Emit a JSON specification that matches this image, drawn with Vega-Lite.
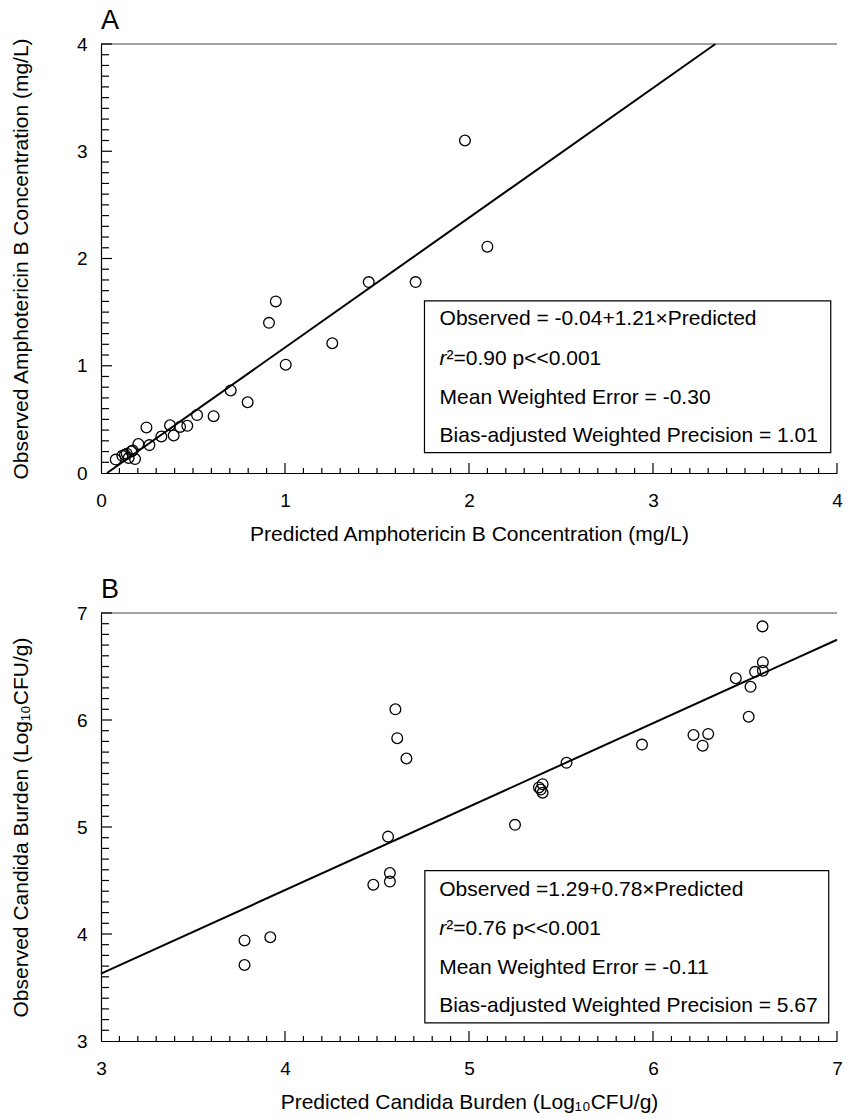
{
  "$schema": "https://vega.github.io/schema/vega-lite/v6.json",
  "background": "white",
  "padding": {"left": 10, "top": 7, "right": 6, "bottom": 5},
  "spacing": 32,
  "config": {
    "font": "Liberation Sans",
    "view": {"stroke": null},
    "axis": {
      "grid": false,
      "domainColor": "black",
      "domainWidth": 1.2,
      "tickColor": "black",
      "labelFontSize": 19,
      "labelColor": "black",
      "titleFontSize": 21,
      "titleFontWeight": "normal",
      "titleColor": "black",
      "labelOverlap": false,
      "labelFlush": false
    },
    "title": {"fontSize": 27, "fontWeight": "normal", "anchor": "start", "frame": "group", "color": "black"}
  },
  "datasets": {
    "ampho": [
      {"pred": 1.978, "obs": 3.10},
      {"pred": 2.10, "obs": 2.11},
      {"pred": 1.455, "obs": 1.78},
      {"pred": 1.71, "obs": 1.78},
      {"pred": 0.95, "obs": 1.60},
      {"pred": 0.913, "obs": 1.40},
      {"pred": 1.257, "obs": 1.21},
      {"pred": 1.004, "obs": 1.01},
      {"pred": 0.705, "obs": 0.77},
      {"pred": 0.797, "obs": 0.66},
      {"pred": 0.612, "obs": 0.53},
      {"pred": 0.522, "obs": 0.54},
      {"pred": 0.469, "obs": 0.44},
      {"pred": 0.43, "obs": 0.43},
      {"pred": 0.375, "obs": 0.445},
      {"pred": 0.395, "obs": 0.35},
      {"pred": 0.328, "obs": 0.34},
      {"pred": 0.247, "obs": 0.425},
      {"pred": 0.263, "obs": 0.26},
      {"pred": 0.203, "obs": 0.27},
      {"pred": 0.172, "obs": 0.21},
      {"pred": 0.165, "obs": 0.20},
      {"pred": 0.14, "obs": 0.18},
      {"pred": 0.13, "obs": 0.17},
      {"pred": 0.116, "obs": 0.16},
      {"pred": 0.08, "obs": 0.125},
      {"pred": 0.185, "obs": 0.13},
      {"pred": 0.15, "obs": 0.14}
    ],
    "candida": [
      {"pred": 3.78, "obs": 3.94},
      {"pred": 3.78, "obs": 3.71},
      {"pred": 3.92, "obs": 3.97},
      {"pred": 4.48, "obs": 4.46},
      {"pred": 4.57, "obs": 4.49},
      {"pred": 4.57, "obs": 4.57},
      {"pred": 4.56, "obs": 4.91},
      {"pred": 4.60, "obs": 6.10},
      {"pred": 4.61, "obs": 5.83},
      {"pred": 4.66, "obs": 5.64},
      {"pred": 5.25, "obs": 5.02},
      {"pred": 5.40, "obs": 5.40},
      {"pred": 5.39, "obs": 5.35},
      {"pred": 5.40, "obs": 5.32},
      {"pred": 5.38, "obs": 5.37},
      {"pred": 5.53, "obs": 5.60},
      {"pred": 5.94, "obs": 5.77},
      {"pred": 6.22, "obs": 5.86},
      {"pred": 6.30, "obs": 5.87},
      {"pred": 6.27, "obs": 5.76},
      {"pred": 6.52, "obs": 6.03},
      {"pred": 6.45, "obs": 6.39},
      {"pred": 6.53, "obs": 6.31},
      {"pred": 6.555, "obs": 6.45},
      {"pred": 6.597, "obs": 6.46},
      {"pred": 6.597, "obs": 6.54},
      {"pred": 6.595, "obs": 6.875}
    ],
    "fitA": [
      {"pred": 0.033, "obs": 0},
      {"pred": 3.339, "obs": 4}
    ],
    "fitB": [
      {"pred": 3, "obs": 3.63},
      {"pred": 7, "obs": 6.75}
    ],
    "majorA": [{"v": 1}, {"v": 2}, {"v": 3}, {"v": 4}],
    "minorA": [{"v":0.1},{"v":0.2},{"v":0.3},{"v":0.4},{"v":0.5},{"v":0.6},{"v":0.7},{"v":0.8},{"v":0.9},{"v":1.1},{"v":1.2},{"v":1.3},{"v":1.4},{"v":1.5},{"v":1.6},{"v":1.7},{"v":1.8},{"v":1.9},{"v":2.1},{"v":2.2},{"v":2.3},{"v":2.4},{"v":2.5},{"v":2.6},{"v":2.7},{"v":2.8},{"v":2.9},{"v":3.1},{"v":3.2},{"v":3.3},{"v":3.4},{"v":3.5},{"v":3.6},{"v":3.7},{"v":3.8},{"v":3.9}],
    "majorB": [{"v": 4}, {"v": 5}, {"v": 6}, {"v": 7}],
    "minorB": [{"v":3.1},{"v":3.2},{"v":3.3},{"v":3.4},{"v":3.5},{"v":3.6},{"v":3.7},{"v":3.8},{"v":3.9},{"v":4.1},{"v":4.2},{"v":4.3},{"v":4.4},{"v":4.5},{"v":4.6},{"v":4.7},{"v":4.8},{"v":4.9},{"v":5.1},{"v":5.2},{"v":5.3},{"v":5.4},{"v":5.5},{"v":5.6},{"v":5.7},{"v":5.8},{"v":5.9},{"v":6.1},{"v":6.2},{"v":6.3},{"v":6.4},{"v":6.5},{"v":6.6},{"v":6.7},{"v":6.8},{"v":6.9}],
    "one": [{}]
  },
  "vconcat": [
    {
      "title": {"text": "A", "offset": 0},
      "width": 736,
      "height": 429,
      "resolve": {"axis": {"x": "independent", "y": "independent"}},
      "layer": [
        {
          "data": {"name": "one"},
          "mark": {"type": "rule", "color": "#444", "strokeWidth": 1},
          "encoding": {
            "x": {"datum": 0, "type": "quantitative", "scale": {"domain": [0, 4], "nice": false, "zero": false},
              "axis": {
                "orient": "bottom",
                "title": "Predicted Amphotericin B Concentration (mg/L)",
                "values": [0, 1, 2, 3, 4],
                "format": "d",
                "ticks": true,
                "tickSize": 0,
                "labelPadding": 18,
                "titlePadding": 13,
                "labelOverlap": false
              }},
            "x2": {"datum": 4},
            "y": {"datum": 4, "type": "quantitative", "scale": {"domain": [0, 4], "nice": false, "zero": false},
              "axis": {
                "orient": "left",
                "title": "Observed Amphotericin B Concentration (mg/L)",
                "values": [0, 1, 2, 3, 4],
                "format": "d",
                "ticks": true,
                "tickSize": 0,
                "labelPadding": 14,
                "titlePadding": 45,
                "labelOverlap": false
              }}
          }
        },
        {
          "data": {"name": "majorA"},
          "mark": {"type": "tick", "orient": "vertical", "size": 10, "thickness": 1.2, "yOffset": -5, "color": "black", "opacity": 1},
          "encoding": {
            "x": {"field": "v", "type": "quantitative", "axis": null},
            "y": {"datum": 0, "type": "quantitative", "axis": null}
          }
        },
        {
          "data": {"name": "minorA"},
          "mark": {"type": "tick", "orient": "vertical", "size": 5, "thickness": 1.2, "yOffset": -2.5, "color": "black", "opacity": 1},
          "encoding": {
            "x": {"field": "v", "type": "quantitative", "axis": null},
            "y": {"datum": 0, "type": "quantitative", "axis": null}
          }
        },
        {
          "data": {"name": "majorA"},
          "mark": {"type": "tick", "orient": "horizontal", "size": 11, "thickness": 1.2, "xOffset": 5.5, "color": "black", "opacity": 1},
          "encoding": {
            "y": {"field": "v", "type": "quantitative", "axis": null},
            "x": {"datum": 0, "type": "quantitative", "axis": null}
          }
        },
        {
          "data": {"name": "minorA"},
          "mark": {"type": "tick", "orient": "horizontal", "size": 8, "thickness": 1.2, "xOffset": 4, "color": "black", "opacity": 1},
          "encoding": {
            "y": {"field": "v", "type": "quantitative", "axis": null},
            "x": {"datum": 0, "type": "quantitative", "axis": null}
          }
        },
        {
          "data": {"name": "fitA"},
          "mark": {"type": "line", "color": "black", "strokeWidth": 2},
          "encoding": {
            "x": {"field": "pred", "type": "quantitative", "axis": null},
            "y": {"field": "obs", "type": "quantitative", "axis": null}
          }
        },
        {
          "data": {"name": "ampho"},
          "mark": {"type": "point", "shape": "circle", "filled": false, "color": "black", "size": 115, "strokeWidth": 1.3, "opacity": 1},
          "encoding": {
            "x": {"field": "pred", "type": "quantitative", "axis": null},
            "y": {"field": "obs", "type": "quantitative", "axis": null}
          }
        },
        {
          "data": {"name": "one"},
          "mark": {"type": "rect", "fill": "white", "stroke": "black", "strokeWidth": 1.2},
          "encoding": {
            "x": {"datum": 1.758, "axis": null}, "x2": {"datum": 3.966},
            "y": {"datum": 0.19, "axis": null}, "y2": {"datum": 1.604}
          }
        },
        {
          "data": {"name": "one"},
          "mark": {"type": "text", "align": "left", "baseline": "middle", "fontSize": 21, "color": "black"},
          "encoding": {"x": {"datum": 1.84, "axis": null}, "y": {"datum": 1.436, "axis": null}, "text": {"value": "Observed = -0.04+1.21×Predicted"}}
        },
        {
          "data": {"name": "one"},
          "mark": {"type": "text", "align": "left", "baseline": "middle", "fontSize": 21, "fontStyle": "italic", "color": "black"},
          "encoding": {"x": {"datum": 1.84, "axis": null}, "y": {"datum": 1.063, "axis": null}, "text": {"value": "r"}}
        },
        {
          "data": {"name": "one"},
          "mark": {"type": "text", "align": "left", "baseline": "middle", "fontSize": 21, "dx": 7, "color": "black"},
          "encoding": {"x": {"datum": 1.84, "axis": null}, "y": {"datum": 1.063, "axis": null}, "text": {"value": "²=0.90 p<<0.001"}}
        },
        {
          "data": {"name": "one"},
          "mark": {"type": "text", "align": "left", "baseline": "middle", "fontSize": 21, "color": "black"},
          "encoding": {"x": {"datum": 1.84, "axis": null}, "y": {"datum": 0.70, "axis": null}, "text": {"value": "Mean Weighted Error = -0.30"}}
        },
        {
          "data": {"name": "one"},
          "mark": {"type": "text", "align": "left", "baseline": "middle", "fontSize": 21, "color": "black"},
          "encoding": {"x": {"datum": 1.84, "axis": null}, "y": {"datum": 0.345, "axis": null}, "text": {"value": "Bias-adjusted Weighted Precision = 1.01"}}
        }
      ]
    },
    {
      "title": {"text": "B", "offset": 0},
      "width": 736,
      "height": 428,
      "resolve": {"axis": {"x": "independent", "y": "independent"}},
      "layer": [
        {
          "data": {"name": "one"},
          "mark": {"type": "rule", "color": "#444", "strokeWidth": 1},
          "encoding": {
            "x": {"datum": 3, "type": "quantitative", "scale": {"domain": [3, 7], "nice": false, "zero": false},
              "axis": {
                "orient": "bottom",
                "title": "Predicted Candida Burden (Log₁₀CFU/g)",
                "values": [3, 4, 5, 6, 7],
                "format": "d",
                "ticks": true,
                "tickSize": 0,
                "labelPadding": 18,
                "titlePadding": 13,
                "labelOverlap": false
              }},
            "x2": {"datum": 7},
            "y": {"datum": 7, "type": "quantitative", "scale": {"domain": [3, 7], "nice": false, "zero": false},
              "axis": {
                "orient": "left",
                "title": "Observed Candida Burden (Log₁₀CFU/g)",
                "values": [3, 4, 5, 6, 7],
                "format": "d",
                "ticks": true,
                "tickSize": 0,
                "labelPadding": 14,
                "titlePadding": 45,
                "labelOverlap": false
              }}
          }
        },
        {
          "data": {"name": "majorB"},
          "mark": {"type": "tick", "orient": "vertical", "size": 10, "thickness": 1.2, "yOffset": -5, "color": "black", "opacity": 1},
          "encoding": {
            "x": {"field": "v", "type": "quantitative", "axis": null},
            "y": {"datum": 3, "type": "quantitative", "axis": null}
          }
        },
        {
          "data": {"name": "minorB"},
          "mark": {"type": "tick", "orient": "vertical", "size": 5, "thickness": 1.2, "yOffset": -2.5, "color": "black", "opacity": 1},
          "encoding": {
            "x": {"field": "v", "type": "quantitative", "axis": null},
            "y": {"datum": 3, "type": "quantitative", "axis": null}
          }
        },
        {
          "data": {"name": "majorB"},
          "mark": {"type": "tick", "orient": "horizontal", "size": 11, "thickness": 1.2, "xOffset": 5.5, "color": "black", "opacity": 1},
          "encoding": {
            "y": {"field": "v", "type": "quantitative", "axis": null},
            "x": {"datum": 3, "type": "quantitative", "axis": null}
          }
        },
        {
          "data": {"name": "minorB"},
          "mark": {"type": "tick", "orient": "horizontal", "size": 8, "thickness": 1.2, "xOffset": 4, "color": "black", "opacity": 1},
          "encoding": {
            "y": {"field": "v", "type": "quantitative", "axis": null},
            "x": {"datum": 3, "type": "quantitative", "axis": null}
          }
        },
        {
          "data": {"name": "fitB"},
          "mark": {"type": "line", "color": "black", "strokeWidth": 2},
          "encoding": {
            "x": {"field": "pred", "type": "quantitative", "axis": null},
            "y": {"field": "obs", "type": "quantitative", "axis": null}
          }
        },
        {
          "data": {"name": "candida"},
          "mark": {"type": "point", "shape": "circle", "filled": false, "color": "black", "size": 115, "strokeWidth": 1.3, "opacity": 1},
          "encoding": {
            "x": {"field": "pred", "type": "quantitative", "axis": null},
            "y": {"field": "obs", "type": "quantitative", "axis": null}
          }
        },
        {
          "data": {"name": "one"},
          "mark": {"type": "rect", "fill": "white", "stroke": "black", "strokeWidth": 1.2},
          "encoding": {
            "x": {"datum": 4.76, "axis": null}, "x2": {"datum": 6.955},
            "y": {"datum": 3.169, "axis": null}, "y2": {"datum": 4.593}
          }
        },
        {
          "data": {"name": "one"},
          "mark": {"type": "text", "align": "left", "baseline": "middle", "fontSize": 21, "color": "black"},
          "encoding": {"x": {"datum": 4.838, "axis": null}, "y": {"datum": 4.415, "axis": null}, "text": {"value": "Observed =1.29+0.78×Predicted"}}
        },
        {
          "data": {"name": "one"},
          "mark": {"type": "text", "align": "left", "baseline": "middle", "fontSize": 21, "fontStyle": "italic", "color": "black"},
          "encoding": {"x": {"datum": 4.838, "axis": null}, "y": {"datum": 4.049, "axis": null}, "text": {"value": "r"}}
        },
        {
          "data": {"name": "one"},
          "mark": {"type": "text", "align": "left", "baseline": "middle", "fontSize": 21, "dx": 7, "color": "black"},
          "encoding": {"x": {"datum": 4.838, "axis": null}, "y": {"datum": 4.049, "axis": null}, "text": {"value": "²=0.76 p<<0.001"}}
        },
        {
          "data": {"name": "one"},
          "mark": {"type": "text", "align": "left", "baseline": "middle", "fontSize": 21, "color": "black"},
          "encoding": {"x": {"datum": 4.838, "axis": null}, "y": {"datum": 3.684, "axis": null}, "text": {"value": "Mean Weighted Error = -0.11"}}
        },
        {
          "data": {"name": "one"},
          "mark": {"type": "text", "align": "left", "baseline": "middle", "fontSize": 21, "color": "black"},
          "encoding": {"x": {"datum": 4.838, "axis": null}, "y": {"datum": 3.328, "axis": null}, "text": {"value": "Bias-adjusted Weighted Precision = 5.67"}}
        }
      ]
    }
  ]
}
